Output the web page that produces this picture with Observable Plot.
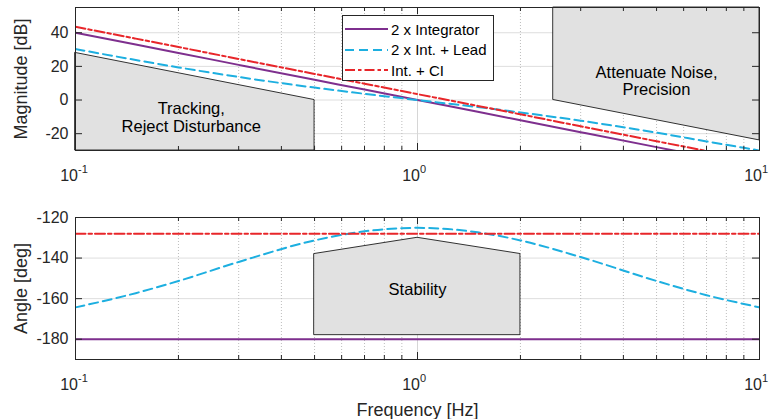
<!DOCTYPE html>
<html>
<head>
<meta charset="utf-8">
<script src="https://cdn.jsdelivr.net/npm/d3@7"></script>
<script src="https://cdn.jsdelivr.net/npm/@observablehq/plot@0.6"></script>
<style>
  body { margin: 0; background: #fff; font-family: "Liberation Sans", Arial, Helvetica, sans-serif; }
  #wrap { position: relative; width: 772px; height: 419px; overflow: hidden; }
  #wrap svg { display: block; }
  .legend { position: absolute; left: 342px; top: 15px; width: 150px; height: 64px;
            border: 1px solid #262626; background: #fff; font-size: 15px; color: #000; }
  .legend .row { position: absolute; left: 0; height: 20px; display: flex; align-items: center; }
  .legend svg { margin-left: 2px; margin-right: 3px; }
</style>
</head>
<body>
<div id="wrap"></div>
<script>
// ---------------- data ----------------
const seriesNames = ["2 x Integrator", "2 x Int. + Lead", "Int. + CI"];
const freq = [0.1, 0.15, 0.2, 0.3, 0.5, 0.7, 1, 1.5, 2, 3, 5, 7, 10];
// magnitude [dB]
const magIntegrator = [40, 33, 28, 20.9, 12, 6.2, 0, -7, -12, -19.1, -28, -33.8, -40];
const magLead       = [30.3, 23.8, 19.4, 13.7, 7.4, 3.7, 0, -4.2, -7.4, -12.3, -19.4, -24.6, -30];
const magCI         = [43.5, 36.5, 31.5, 24.4, 15.5, 9.7, 3.5, -3.5, -8.5, -15.6, -24.5, -30.3, -36.5];
// phase [deg]
const phaseIntegrator = [-180, -180, -180, -180, -180, -180, -180, -180, -180, -180, -180, -180, -180];
const phaseLead       = [-164.3, -157.3, -151.3, -141.9, -131.3, -126.8, -125.1, -127.3, -131.3, -139.5, -151.3, -158.3, -164.3];
const phaseCI         = [-128, -128, -128, -128, -128, -128, -128, -128, -128, -128, -128, -128, -128];

// requirement regions
const trackingX = [0.1, 0.5];
const trackingLow = [-30, -30];
const trackingHigh = [28, 0];
const noiseX = [2.5, 10];
const noiseLow = [0, -24];
const noiseHigh = [55, 55];
const stabilityX = [0.5, 1, 2];
const stabilityLow = [-178, -178, -178];
const stabilityHigh = [-138, -130, -138];

const magLabels = [
  {text: "Tracking,\nReject Disturbance", f: 0.218, v: -10.3},
  {text: "Attenuate Noise,\nPrecision", f: 5.0, v: 11.3}
];
const phaseLabels = [{text: "Stability", f: 1.0, v: -155.6}];

// axes
const xDomain = [0.1, 10];
const xMajor = [0.1, 1, 10];
const xExponents = ["-1", "0", "1"];
const xMinor = [0.2, 0.3, 0.4, 0.5, 0.6, 0.7, 0.8, 0.9, 2, 3, 4, 5, 6, 7, 8, 9];
const magDomain = [-30, 55];
const magTicks = [-20, 0, 20, 40];
const phaseDomain = [-190, -120];
const phaseTicks = [-180, -160, -140, -120];

// ---------------- styles ----------------
const lineStyles = [
  {stroke: "#7E2F8E", dash: null},
  {stroke: "#1DAFE0", dash: "9,5"},
  {stroke: "#E8262A", dash: "10,3,3.5,3"}
];
const FONT = "'Liberation Sans', Arial, Helvetica, sans-serif";
const W = 772, ML = 75, MR = 13;
const frameW = W - ML - MR;

function rows(values) { return freq.map((f, i) => ({f, v: values[i]})); }
function region(xs, lo, hi) { return xs.map((f, i) => ({f, lo: lo[i], hi: hi[i]})); }

function panel({height, mt, mb, yDomain, yTicks, series, regions, labels, yLabel, xLabel}) {
  const frameH = height - mt - mb;
  const marks = [
    Plot.gridY(yTicks, {stroke: "#dedede", strokeOpacity: 1}),
    Plot.ruleX(xMinor, {x: d => d, stroke: "#bdbdbd", strokeDasharray: "1,2"}),
    Plot.ruleX([1], {x: d => d, stroke: "#d6d6d6"}),
    ...regions.map(r => Plot.areaY(r, {x: "f", y1: "lo", y2: "hi", fill: "#e1e1e1", stroke: "#000", strokeWidth: 0.8})),
    ...labels.map(l => Plot.text([l], {x: "f", y: "v", text: "text", fontSize: 16.5, lineHeight: 1.05, fill: "#000"})),
    ...series.map((s, i) => Plot.line(rows(s), {x: "f", y: "v", stroke: lineStyles[i].stroke,
      strokeDasharray: lineStyles[i].dash, strokeWidth: 2, curve: "monotone-x", clip: true})),
    Plot.frame({stroke: "#262626", strokeWidth: 1}),
    // inward ticks (box on)
    Plot.tickX(xMajor, {x: d => d, insetTop: frameH - 7, stroke: "#262626"}),
    Plot.tickX(xMajor, {x: d => d, insetBottom: frameH - 7, stroke: "#262626"}),
    Plot.tickX(xMinor, {x: d => d, insetTop: frameH - 4, stroke: "#262626"}),
    Plot.tickX(xMinor, {x: d => d, insetBottom: frameH - 4, stroke: "#262626"}),
    Plot.tickY(yTicks, {y: d => d, insetRight: frameW - 7, stroke: "#262626"}),
    Plot.tickY(yTicks, {y: d => d, insetLeft: frameW - 7, stroke: "#262626"}),
    Plot.axisY(yTicks, {tickSize: 0, tickPadding: 7, fontSize: 16, label: null, tickFormat: d => String(d)}),
    // x tick labels as 10^n
    Plot.text(xMajor, {x: d => d, frameAnchor: "bottom", text: () => "10", textAnchor: "end",
      lineAnchor: "bottom", dx: 2.5, dy: 30, fontSize: 16, fill: "#262626"}),
    Plot.text(xMajor, {x: d => d, frameAnchor: "bottom", text: (d, i) => xExponents[i], textAnchor: "start",
      lineAnchor: "bottom", dx: 2.5, dy: 22, fontSize: 11, fill: "#262626"}),
    Plot.text([yLabel], {frameAnchor: "left", text: d => d, rotate: -90, textAnchor: "middle",
      lineAnchor: "middle", dx: -54, fontSize: 18, fill: "#262626"})
  ];
  if (xLabel) marks.push(Plot.text([xLabel], {frameAnchor: "bottom", text: d => d, lineAnchor: "bottom",
    textAnchor: "middle", dy: 56, fontSize: 18, fill: "#262626"}));
  return Plot.plot({
    width: W, height, marginLeft: ML, marginRight: MR, marginTop: mt, marginBottom: mb,
    style: {fontFamily: FONT, color: "#262626", background: "transparent", overflow: "visible"},
    x: {type: "log", domain: xDomain, axis: null},
    y: {domain: yDomain, axis: null},
    marks
  });
}

const wrap = document.getElementById("wrap");
wrap.appendChild(panel({
  height: 200, mt: 7, mb: 50, yDomain: magDomain, yTicks: magTicks,
  series: [magIntegrator, magLead, magCI],
  regions: [region(trackingX, trackingLow, trackingHigh), region(noiseX, noiseLow, noiseHigh)],
  labels: magLabels, yLabel: "Magnitude [dB]"
}));
wrap.appendChild(panel({
  height: 219, mt: 17, mb: 60, yDomain: phaseDomain, yTicks: phaseTicks,
  series: [phaseIntegrator, phaseLead, phaseCI],
  regions: [region(stabilityX, stabilityLow, stabilityHigh)],
  labels: phaseLabels, yLabel: "Angle [deg]", xLabel: "Frequency [Hz]"
}));

// legend
const legend = document.createElement("div");
legend.className = "legend";
seriesNames.forEach((name, i) => {
  const row = document.createElement("div");
  row.className = "row";
  row.style.top = (3 + 20.7 * i) + "px";
  const dash = lineStyles[i].dash ? ` stroke-dasharray="${lineStyles[i].dash}"` : "";
  row.innerHTML = `<svg width="43" height="10"><line x1="0" y1="5" x2="43" y2="5" stroke="${lineStyles[i].stroke}" stroke-width="2"${dash}/></svg><span>${name}</span>`;
  legend.appendChild(row);
});
wrap.appendChild(legend);
</script>
</body>
</html>
